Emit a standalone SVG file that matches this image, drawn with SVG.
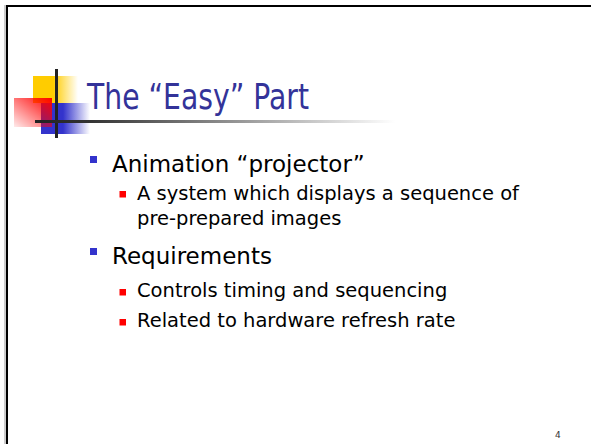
<svg xmlns="http://www.w3.org/2000/svg" width="591" height="444" viewBox="0 0 591 444">
<defs>
<linearGradient id="gY" x1="0" y1="0" x2="1" y2="0"><stop offset="0" stop-color="#FFCC00"/><stop offset="0.45" stop-color="#FFCC00"/><stop offset="1" stop-color="#FFCC00" stop-opacity="0"/></linearGradient>
<linearGradient id="gB" x1="0" y1="0" x2="1" y2="0"><stop offset="0" stop-color="#3333CC"/><stop offset="0.45" stop-color="#3333CC"/><stop offset="1" stop-color="#3333CC" stop-opacity="0"/></linearGradient>
<linearGradient id="gR" x1="1" y1="0" x2="0" y2="1"><stop offset="0" stop-color="#FF0000"/><stop offset="1" stop-color="#FF0000" stop-opacity="0.08"/></linearGradient>
<linearGradient id="gL" x1="0" y1="0" x2="1" y2="0"><stop offset="0" stop-color="#222"/><stop offset="0.15" stop-color="#333"/><stop offset="1" stop-color="#fff"/></linearGradient>
</defs>
<style>
text{font-family:"DejaVu Sans","Verdana",sans-serif;fill:#000}
.t{font-size:36px;fill:#333399}
.l1{font-size:23px}
.l2{font-size:19.5px}
.b1{fill:#3333CC}
.b2{fill:#FF0000}
</style>
<rect width="591" height="444" fill="#fff"/>
<g id="frame">
<path d="M7,444 V6 H591" fill="none" stroke="#000" stroke-width="2"/>
<path d="M5,444 V5" stroke="#999" stroke-width="1"/>
</g>
<g id="logo">
<rect x="41" y="103" width="49" height="31" fill="url(#gB)"/>
<rect x="33" y="76" width="45" height="27" fill="url(#gY)"/>
<rect x="14" y="98" width="38" height="29" fill="url(#gR)"/>
<rect x="55" y="69" width="3" height="69" fill="#222"/>
<rect x="35" y="120" width="360" height="3" fill="url(#gL)"/>
</g>
<g id="title"><text class="t" x="87" y="109" textLength="222" lengthAdjust="spacingAndGlyphs">The “Easy” Part</text></g>
<g id="body">
<rect class="b1" x="90" y="156" width="7" height="7"/>
<text class="l1" x="112" y="172">Animation “projector”</text>
<rect class="b2" x="119.5" y="191" width="6.5" height="6.5"/>
<text class="l2" x="137" y="199.5">A system which displays a sequence of</text>
<text class="l2" x="137" y="224.5">pre-prepared images</text>
<rect class="b1" x="90" y="248" width="7" height="7"/>
<text class="l1" x="112" y="264">Requirements</text>
<rect class="b2" x="119.5" y="289" width="6.5" height="6.5"/>
<text class="l2" x="137" y="297">Controls timing and sequencing</text>
<rect class="b2" x="119.5" y="319" width="6.5" height="6.5"/>
<text class="l2" x="137" y="327">Related to hardware refresh rate</text>
</g>
<g id="page"><text x="555" y="438" font-size="9" style="fill:#333">4</text></g>
</svg>
